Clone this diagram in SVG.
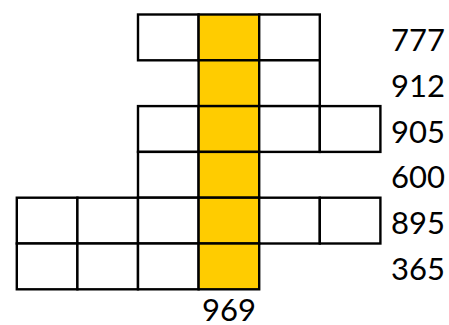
<svg xmlns="http://www.w3.org/2000/svg" width="449" height="325" viewBox="0 0 449 325">
<style>
.c{fill:#ffffff;stroke:#000000;stroke-width:2.4}
.y{fill:#ffcc00;stroke:#000000;stroke-width:2.4}
.t{font-family:"Lato","Liberation Sans",sans-serif;font-size:31px;fill:#000000;text-anchor:middle}
</style>
<rect width="449" height="325" fill="#ffffff"/>
<g id="row1">
<rect class="c" x="138" y="14.5" width="60.6" height="45.8"/>
<rect class="y" x="198.6" y="14.5" width="60.6" height="45.8"/>
<rect class="c" x="259.2" y="14.5" width="60.6" height="45.8"/>
</g>
<g id="row2">
<rect class="y" x="198.6" y="60.3" width="60.6" height="45.8"/>
<rect class="c" x="259.2" y="60.3" width="60.6" height="45.8"/>
</g>
<g id="row3">
<rect class="c" x="138" y="106.1" width="60.6" height="45.8"/>
<rect class="y" x="198.6" y="106.1" width="60.6" height="45.8"/>
<rect class="c" x="259.2" y="106.1" width="60.6" height="45.8"/>
<rect class="c" x="319.8" y="106.1" width="60.6" height="45.8"/>
</g>
<g id="row4">
<rect class="c" x="138" y="151.9" width="60.6" height="45.8"/>
<rect class="y" x="198.6" y="151.9" width="60.6" height="45.8"/>
</g>
<g id="row5">
<rect class="c" x="16.8" y="197.7" width="60.6" height="45.8"/>
<rect class="c" x="77.4" y="197.7" width="60.6" height="45.8"/>
<rect class="c" x="138" y="197.7" width="60.6" height="45.8"/>
<rect class="y" x="198.6" y="197.7" width="60.6" height="45.8"/>
<rect class="c" x="259.2" y="197.7" width="60.6" height="45.8"/>
<rect class="c" x="319.8" y="197.7" width="60.6" height="45.8"/>
</g>
<g id="row6">
<rect class="c" x="16.8" y="243.5" width="60.6" height="45.8"/>
<rect class="c" x="77.4" y="243.5" width="60.6" height="45.8"/>
<rect class="c" x="138" y="243.5" width="60.6" height="45.8"/>
<rect class="y" x="198.6" y="243.5" width="60.6" height="45.8"/>
</g>
<g id="labels">
<text class="t" x="418" y="50.7">777</text>
<text class="t" x="418" y="96.7">912</text>
<text class="t" x="418" y="142.5">905</text>
<text class="t" x="418" y="188.3">600</text>
<text class="t" x="418" y="233.8">895</text>
<text class="t" x="418" y="279.5">365</text>
<text class="t" x="228.9" y="321">969</text>
</g>
</svg>
